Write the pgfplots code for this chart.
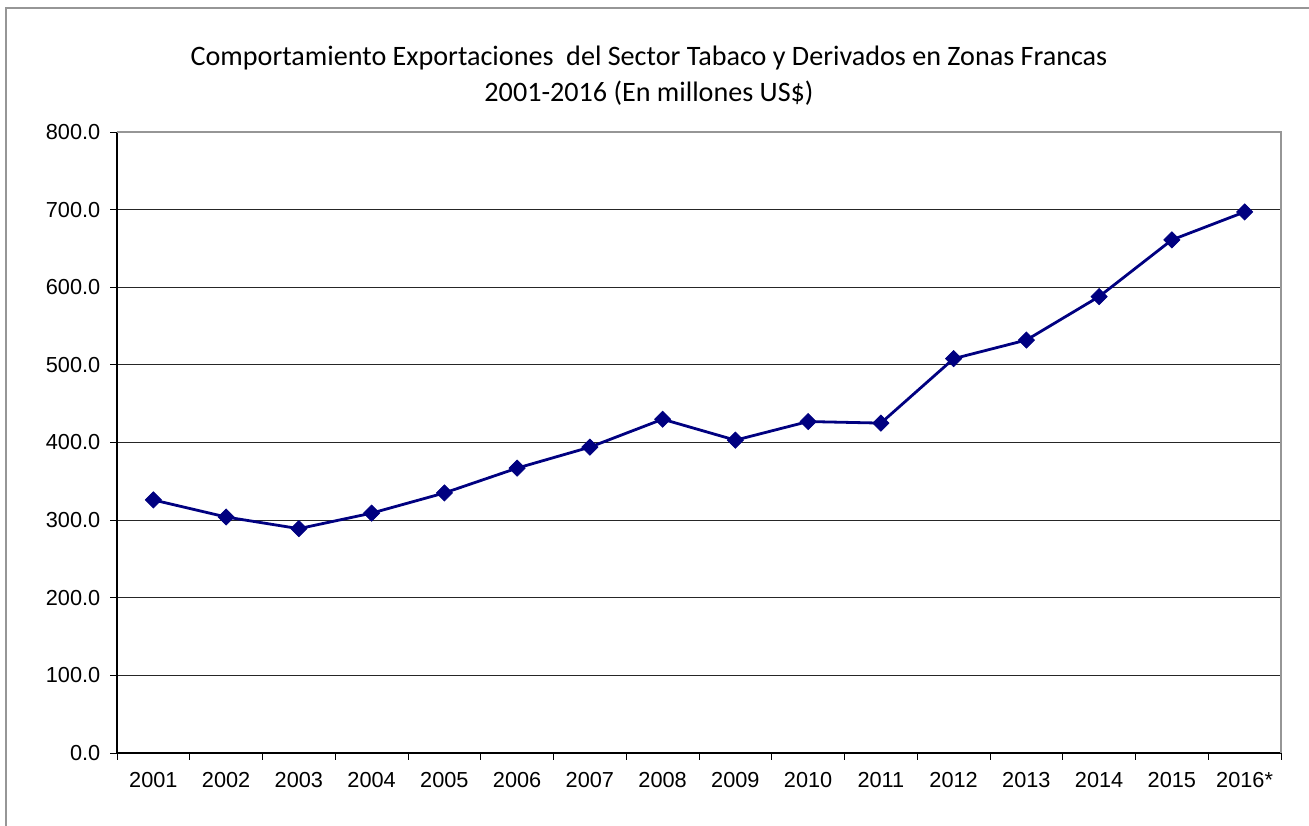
\documentclass[border=0pt]{standalone}
\usepackage{pgfplots}
\pgfplotsset{compat=1.18}
\usepackage{fontspec}
\setmainfont{Liberation Sans}
\newfontfamily\titlefont{Carlito}
\definecolor{navyline}{RGB}{0,0,128}
\definecolor{framegray}{RGB}{150,150,150}
\begin{document}
\begin{tikzpicture}
\path[use as bounding box] (0,0) rectangle (981.75pt,618.75pt);
\draw[framegray, line width=0.9pt] (4.5pt,-1pt) -- (4.5pt,612.75pt) -- (983pt,612.75pt);
\node[align=center, font=\titlefont\fontsize{21.1}{26.3}\selectfont] at (486.75pt,562pt)
  {Comportamiento Exportaciones\ \ del Sector Tabaco y Derivados en Zonas Francas\\2001-2016 (En millones US\$)};
\begin{axis}[
  at={(87.75pt,54pt)}, anchor=south west,
  scale only axis, width=873pt, height=465.75pt,
  xmin=-0.5, xmax=15.5, ymin=0, ymax=800,
  axis x line*=bottom, axis y line*=left,
  axis line style={black, line width=1.1pt},
  xtick={0,...,15},
  xticklabels={2001,2002,2003,2004,2005,2006,2007,2008,2009,2010,2011,2012,2013,2014,2015,2016*},
  minor xtick={-0.5,0.5,...,15.5},
  ytick={0,100,...,800},
  major x tick style={draw=none},
  minor x tick style={black, line width=0.6pt},
  y tick style={black, line width=0.6pt},
  tick align=outside,
  major tick length=5pt, minor tick length=5pt,
  ymajorgrids, grid style={black!85, line width=0.75pt},
  y tick label style={xshift=-4pt},
  yticklabel style={/pgf/number format/fixed, /pgf/number format/fixed zerofill, /pgf/number format/precision=1, /pgf/number format/1000 sep={}},
  /pgf/number format/assume math mode=true,
  ticklabel style={font=\fontsize{16.3}{19}\selectfont},
  xticklabel style={yshift=-6pt},
  clip=false,
]
\addplot[navyline, line width=2.1pt, mark=square*, mark size=4.3pt, mark options={rotate=45, fill=navyline, draw=navyline, line width=0.5pt}]
  coordinates {(0,326) (1,304) (2,289) (3,309) (4,335) (5,367) (6,394) (7,430) (8,403) (9,427) (10,425) (11,508) (12,532) (13,588) (14,661) (15,697)};
\draw[framegray, line width=1.6pt] (rel axis cs:0,1) -- (rel axis cs:1,1) -- (rel axis cs:1,0);
\end{axis}
\end{tikzpicture}
\end{document}
